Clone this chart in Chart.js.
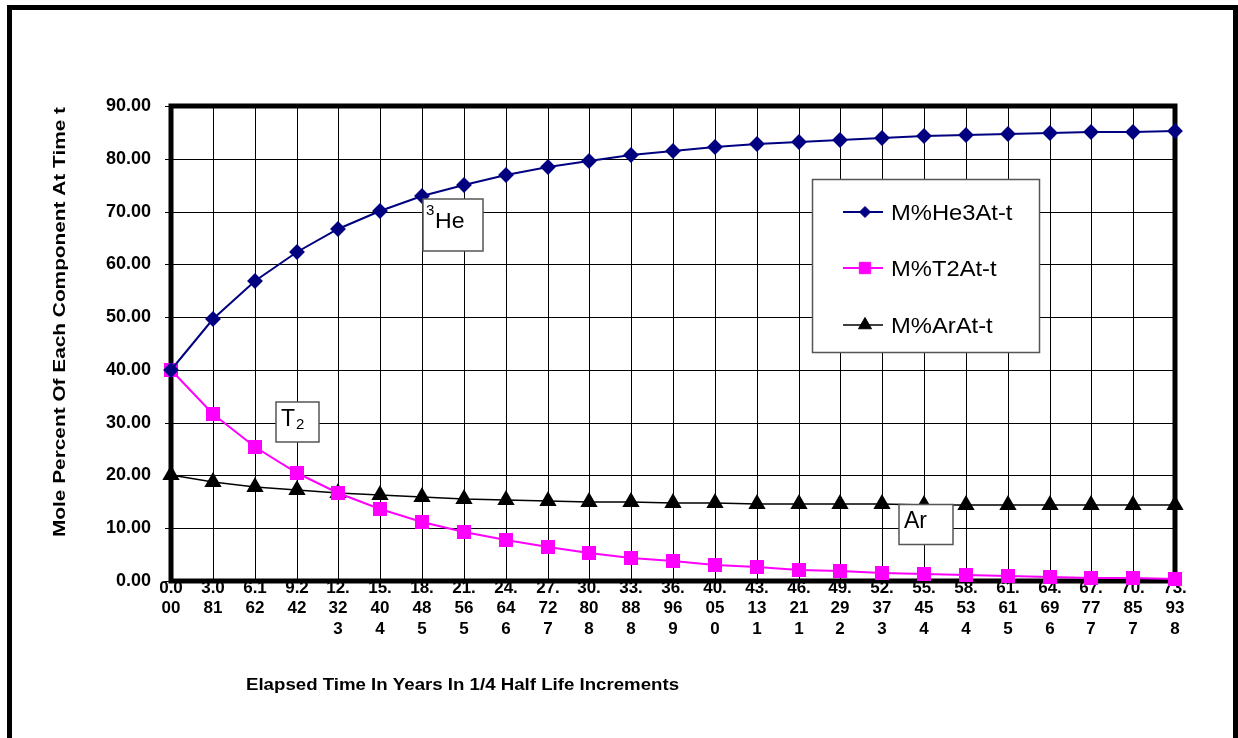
<!DOCTYPE html>
<html>
<head>
<meta charset="utf-8">
<script src="https://cdn.jsdelivr.net/npm/chart.js@4.4.0/dist/chart.umd.min.js"></script>
<style>
    html, body { margin: 0; padding: 0; background: #fff; }
    #wrap { width: 1238px; height: 738px; }
</style>
</head>
<body>
<div id="wrap"><canvas id="decay-graph" width="1238" height="738"></canvas></div>
<script>
// elapsed time in years, 1/4 half life steps
const elapsedYears = ['0.000', '3.081', '6.162', '9.242', '12.323', '15.404', '18.485', '21.565',
    '24.646', '27.727', '30.808', '33.888', '36.969', '40.050', '43.131', '46.211', '49.292',
    '52.373', '55.454', '58.534', '61.615', '64.696', '67.777', '70.857', '73.938'];

const he3Percent = [40.00, 49.58, 56.78, 62.32, 66.67, 70.11, 72.87, 75.11, 76.92, 78.41, 79.63,
    80.64, 81.48, 82.17, 82.75, 83.23, 83.64, 83.97, 84.25, 84.49, 84.69, 84.85, 84.98, 85.11, 85.20];
const t2Percent = [40.00, 31.62, 25.32, 20.47, 16.67, 13.65, 11.24, 9.28, 7.69, 6.39, 5.32,
    4.44, 3.70, 3.10, 2.59, 2.17, 1.82, 1.53, 1.28, 1.07, 0.90, 0.76, 0.64, 0.53, 0.45];
const arPercent = [20.00, 18.80, 17.90, 17.21, 16.67, 16.24, 15.89, 15.61, 15.38, 15.20, 15.05,
    14.92, 14.81, 14.73, 14.66, 14.60, 14.55, 14.50, 14.47, 14.44, 14.41, 14.39, 14.38, 14.36, 14.35];

const seriesNames = ['M%He3At-t', 'M%T2At-t', 'M%ArAt-t'];
const yTicks = [0, 10, 20, 30, 40, 50, 60, 70, 80, 90];

const FONT = '"Liberation Sans", Arial, sans-serif';

// excel wraps the long tick labels: 3 chars, then 2 per line
function chunkLabel(s) {
    const out = [s.slice(0, 3)];
    for (let i = 3; i < s.length; i += 2) out.push(s.slice(i, i + 2));
    return out;
}

// text drawn a little wider, like the original render
function drawWide(ctx, text, x, y, font, sx, align) {
    ctx.save();
    ctx.font = font;
    ctx.translate(x, y);
    ctx.scale(sx, 1);
    ctx.textAlign = align || 'left';
    ctx.textBaseline = 'alphabetic';
    ctx.fillStyle = '#000';
    ctx.fillText(text, 0, 0);
    ctx.restore();
}

function drawFitted(ctx, text, x, y, font, width, align) {
    ctx.save();
    ctx.font = font;
    const w = ctx.measureText(text).width;
    ctx.restore();
    drawWide(ctx, text, x, y, font, width / w, align);
}

function boxAt(ctx, x, y, w, h) {
    ctx.save();
    ctx.fillStyle = '#fff';
    ctx.strokeStyle = '#555';
    ctx.lineWidth = 1.5;
    ctx.fillRect(x, y, w, h);
    ctx.strokeRect(x, y, w, h);
    ctx.restore();
}

const framePlugin = {
    id: 'plotFrame',
    beforeDatasetsDraw(chart) {
        const { ctx, chartArea: a } = chart;
        ctx.save();
        ctx.lineWidth = 5;
        ctx.strokeStyle = '#000';
        ctx.strokeRect(a.left, a.top, a.right - a.left, a.bottom - a.top);
        ctx.restore();
    }
};

const decorPlugin = {
    id: 'decor',
    afterDraw(chart) {
        const ctx = chart.ctx;

        // outer border of the picture
        ctx.save();
        ctx.lineWidth = 5;
        ctx.strokeStyle = '#000';
        ctx.strokeRect(9.5, 7.5, 1226, 760);
        ctx.restore();

        // axis titles
        ctx.save();
        ctx.translate(65, 322);
        ctx.rotate(-Math.PI / 2);
        drawFitted(ctx, 'Mole Percent Of Each Component At Time t', 0, 0, 'bold 17px ' + FONT, 430, 'center');
        ctx.restore();
        drawFitted(ctx, 'Elapsed Time In Years In 1/4 Half Life Increments', 246, 690, 'bold 16px ' + FONT, 433, 'left');

        // legend
        boxAt(ctx, 812.5, 179.5, 227, 173);
        const rows = [212, 268, 325];
        chart.data.datasets.forEach((ds, i) => {
            const y = rows[i];
            ctx.save();
            ctx.strokeStyle = ds.borderColor;
            ctx.lineWidth = ds.borderWidth;
            ctx.beginPath();
            ctx.moveTo(843, y);
            ctx.lineTo(883, y);
            ctx.stroke();
            ctx.fillStyle = ds.pointBackgroundColor;
            ctx.strokeStyle = ds.pointBorderColor;
            ctx.lineWidth = 1;
            Chart.helpers.drawPoint(ctx, {
                pointStyle: ds.pointStyle,
                radius: ds.legendRadius,
                rotation: 0,
                borderWidth: 1
            }, 865, y);
            ctx.restore();
            drawWide(ctx, ds.label, 891, y + 8, '22px ' + FONT, 1.08, 'left');
        });

        // curve labels
        boxAt(ctx, 423, 199, 60, 52);
        drawWide(ctx, '3', 426, 215, '15px ' + FONT, 1.0, 'left');
        drawWide(ctx, 'He', 435, 228, '22px ' + FONT, 1.05, 'left');

        boxAt(ctx, 276, 402, 43, 40);
        drawWide(ctx, 'T', 281, 426, '23px ' + FONT, 1.0, 'left');
        drawWide(ctx, '2', 296, 429, '15px ' + FONT, 1.0, 'left');

        boxAt(ctx, 899, 504.5, 54, 40);
        drawWide(ctx, 'Ar', 904, 528, '23px ' + FONT, 1.0, 'left');
    }
};

function createDecayChart() {
    const ctx = document.getElementById('decay-graph').getContext('2d');

    new Chart(ctx, {
        type: 'line',
        data: {
            labels: elapsedYears,
            datasets: [
                {
                    label: seriesNames[0],
                    data: he3Percent,
                    borderColor: '#000080',
                    backgroundColor: '#000080',
                    pointBackgroundColor: '#000080',
                    pointBorderColor: '#000080',
                    pointStyle: 'rectRot',
                    pointRadius: 6.5,
                    legendRadius: 5.5,
                    borderWidth: 2
                },
                {
                    label: seriesNames[1],
                    data: t2Percent,
                    borderColor: '#ff00ff',
                    backgroundColor: '#ff00ff',
                    pointBackgroundColor: '#ff00ff',
                    pointBorderColor: '#ff00ff',
                    pointStyle: 'rect',
                    pointRadius: 8.5,
                    legendRadius: 8,
                    borderWidth: 2
                },
                {
                    label: seriesNames[2],
                    data: arPercent,
                    borderColor: '#000000',
                    backgroundColor: '#000000',
                    pointBackgroundColor: '#000000',
                    pointBorderColor: '#000000',
                    pointStyle: 'triangle',
                    pointRadius: 8.5,
                    legendRadius: 7.5,
                    borderWidth: 1.5
                }
            ]
        },
        options: {
            responsive: false,
            animation: false,
            devicePixelRatio: 1,
            clip: false,
            elements: {
                line: { tension: 0 },
                point: { borderWidth: 1, hoverRadius: 8 }
            },
            layout: { padding: { left: 0, top: 106, right: 63, bottom: 0 } },
            plugins: {
                legend: { display: false },
                tooltip: { enabled: false }
            },
            scales: {
                x: {
                    type: 'category',
                    offset: false,
                    alignToPixels: true,
                    afterFit: (scale) => { scale.height = 157; },
                    border: { display: false },
                    grid: { color: '#000', lineWidth: 1, drawTicks: false, offset: false },
                    ticks: {
                        autoSkip: false,
                        maxRotation: 0,
                        minRotation: 0,
                        padding: -3,
                        color: '#000',
                        font: { family: FONT, size: 17, weight: 'bold', lineHeight: 1.2 },
                        callback: function (value) {
                            return chunkLabel(this.getLabelForValue(value));
                        }
                    }
                },
                y: {
                    min: yTicks[0],
                    max: yTicks[yTicks.length - 1],
                    alignToPixels: true,
                    afterFit: (scale) => { scale.width = 171; },
                    afterBuildTicks: (scale) => { scale.ticks = yTicks.map(v => ({ value: v })); },
                    border: { display: false },
                    grid: { color: '#000', lineWidth: 1, tickLength: 6 },
                    ticks: {
                        padding: 14,
                        color: '#000',
                        font: { family: FONT, size: 18, weight: 'bold' },
                        callback: (v) => Number(v).toFixed(2)
                    }
                }
            }
        },
        plugins: [framePlugin, decorPlugin]
    });
}

document.addEventListener('DOMContentLoaded', () => {
    createDecayChart();
});
</script>
</body>
</html>
